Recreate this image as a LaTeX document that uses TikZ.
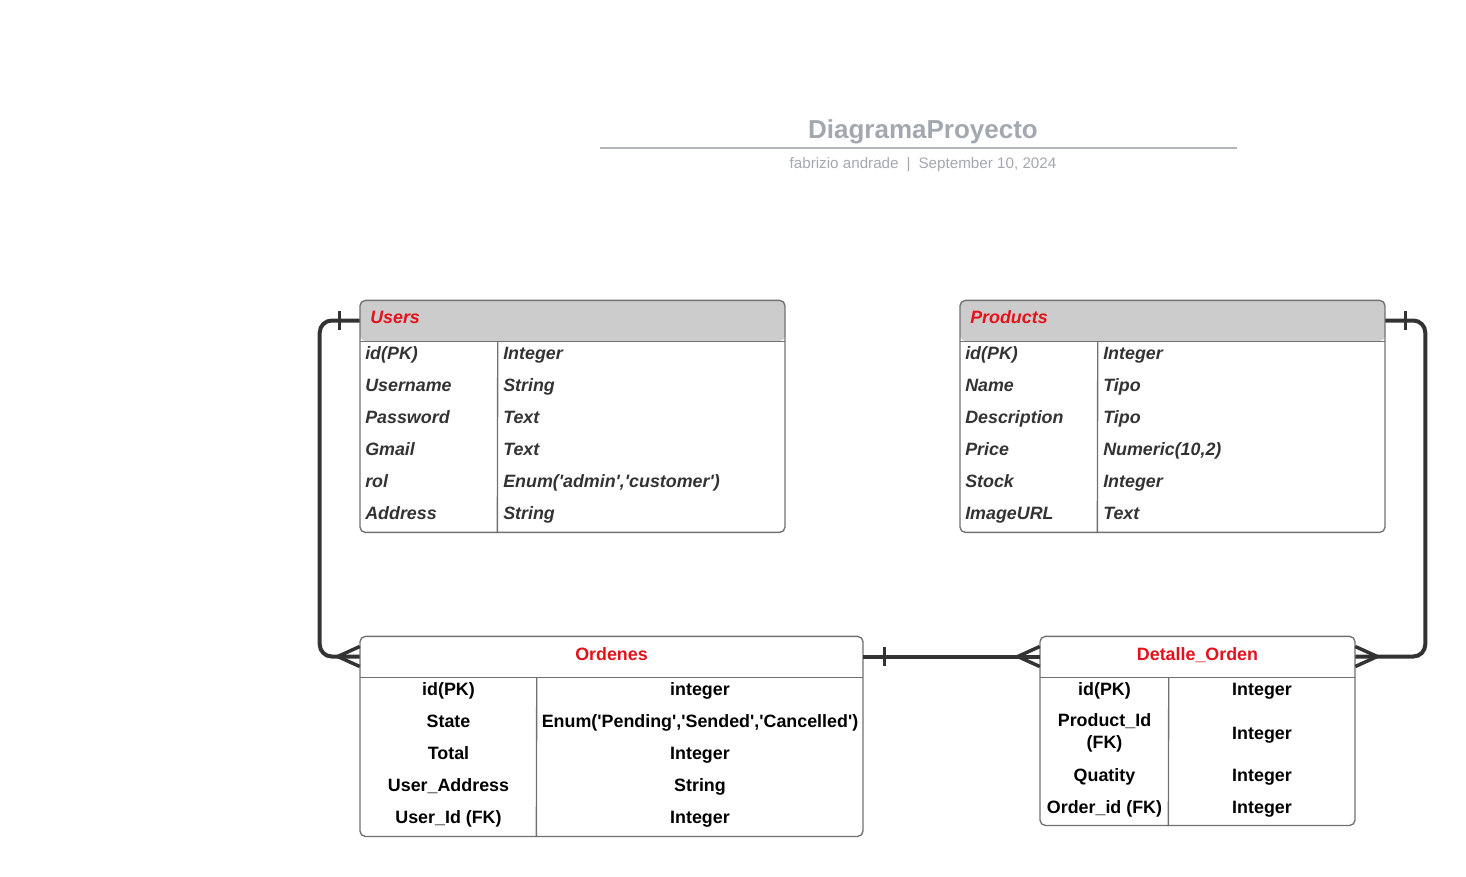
\documentclass[tikz,border=0pt]{standalone}
\usepackage{fontspec}
\setmainfont{Liberation Sans}[Ligatures=TeXOff]
\usepackage{xcolor}
\usepackage{tikz}
\usetikzlibrary{
  positioning,
  calc
}
\definecolor{erRed}{HTML}{E3121B}
\definecolor{erHead}{HTML}{CCCCCC}
\definecolor{erBorder}{HTML}{707070}
\definecolor{erLine}{HTML}{333333}
\definecolor{erField}{HTML}{333333}
\definecolor{erTitle}{HTML}{A3A8B0}
\tikzset{
  tbl/.style={
    draw=erBorder, line width=1pt, rounded corners=4pt, inner sep=0pt
  },
  tblhead/.style={fill=erHead, rounded corners=4pt, inner sep=0pt},
  tblplain/.style={fill=white, rounded corners=4pt, inner sep=0pt},
  tblline/.style={draw=erBorder, line width=1pt},
  headtxt/.style={font=\fontsize{13.4}{16}\selectfont\bfseries, text=erRed, inner sep=0pt},
  fieldit/.style={
    font=\fontsize{13.4}{16}\selectfont\bfseries\itshape, text=erField,
    anchor=base west, inner sep=0pt
  },
  fieldc/.style={
    font=\fontsize{13.4}{16.5}\selectfont\bfseries, text=black,
    anchor=base, inner sep=0pt, align=center
  },
  relline/.style={line width=3pt, draw=erLine, rounded corners=9pt},
  relbar/.style={line width=2.4pt, draw=erLine},
  crowfoot/.style={line width=2.6pt, draw=erLine},
  titletxt/.style={font=\fontsize{19.5}{22}\selectfont\bfseries, text=erTitle, anchor=base, inner sep=0pt},
  subtxt/.style={font=\fontsize{11.4}{13}\selectfont, text=erTitle, anchor=base, inner sep=0pt},
  titlerule/.style={line width=1.6pt, draw=erTitle!85}
}
\begin{document}
\begin{tikzpicture}[x=0.75pt, y=-0.75pt]
  \useasboundingbox (0,0) rectangle (1466,876);
  % title block
  \node[titletxt] (title) at (923,138.3) {DiagramaProyecto};
  \draw[titlerule] (600,148) -- (1237,148);
  \node[subtxt] (subtitle) at (923,168.5) {fabrizio andrade\hspace{6pt}|\hspace{6pt}September 10, 2024};

  % Users
  \node[tblhead, minimum width=318.75pt, minimum height=30.75pt] (usersHead) at (572.5,320.5) {};
  \node[tbl, anchor=north, minimum width=318.75pt, minimum height=174pt] (users) at (usersHead.north) {};
  \draw[tblline] (usersHead.south west) -- (usersHead.south east);
  \draw[tblline] ($(usersHead.south west)+(138,0)$) -- ($(users.south west)+(138,0)$);
  \node[headtxt, anchor=base west] (usersTitle) at (370,323.8) {\itshape Users};
  \foreach \fld/\typ [count=\i from 0] in {id(PK)/Integer, Username/String, Password/Text,
      Gmail/Text, rol/{Enum('admin','customer')}, Address/String} {
    \node[fieldit] (uf\i) at (365,{359.5+32*\i}) {\fld};
    \node[fieldit] (ut\i) at (503,{359.5+32*\i}) {\typ};
  }

  % Products
  \node[tblhead, minimum width=318.75pt, minimum height=30.75pt] (prodHead) at (1172.5,320.5) {};
  \node[tbl, anchor=north, minimum width=318.75pt, minimum height=174pt] (prod) at (prodHead.north) {};
  \draw[tblline] (prodHead.south west) -- (prodHead.south east);
  \draw[tblline] ($(prodHead.south west)+(138,0)$) -- ($(prod.south west)+(138,0)$);
  \node[headtxt, anchor=base west] (prodTitle) at (970,323.8) {\itshape Products};
  \foreach \fld/\typ [count=\i from 0] in {id(PK)/Integer, Name/Tipo, Description/Tipo,
      Price/{Numeric(10,2)}, Stock/Integer, ImageURL/Text} {
    \node[fieldit] (pf\i) at (965,{359.5+32*\i}) {\fld};
    \node[fieldit] (pt\i) at (1103,{359.5+32*\i}) {\typ};
  }

  % Ordenes
  \node[tblplain, minimum width=377.25pt, minimum height=30.75pt] (ordHead) at (611.5,656.5) {};
  \node[tbl, anchor=north, minimum width=377.25pt, minimum height=150pt] (ord) at (ordHead.north) {};
  \draw[tblline] (ordHead.south west) -- (ordHead.south east);
  \draw[tblline] ($(ordHead.south west)+(177,0)$) -- ($(ord.south west)+(177,0)$);
  \node[headtxt, anchor=base] (ordTitle) at (611.5,660) {Ordenes};
  \foreach \fld/\typ [count=\i from 0] in {id(PK)/integer, State/{Enum('Pending','Sended','Cancelled')},
      Total/Integer, User\_Address/String, User\_Id (FK)/Integer} {
    \node[fieldc] (of\i) at (448.5,{695.5+32*\i}) {\fld};
    \node[fieldc] (ot\i) at (700,{695.5+32*\i}) {\typ};
  }

  % Detalle_Orden
  \node[tblplain, minimum width=236.25pt, minimum height=30.75pt] (detHead) at (1197.5,656.5) {};
  \node[tbl, anchor=north, minimum width=236.25pt, minimum height=141.75pt] (det) at (detHead.north) {};
  \draw[tblline] (detHead.south west) -- (detHead.south east);
  \draw[tblline] ($(detHead.south west)+(129,0)$) -- ($(det.south west)+(129,0)$);
  \node[headtxt, anchor=base] (detTitle) at (1197.5,660) {Detalle\_Orden};
  \node[fieldc] (df0) at (1104.5,695.5) {id(PK)};
  \node[fieldc, anchor=center] (df1) at (1104.5,732.5) {Product\_Id\\(FK)};
  \node[fieldc] (df2) at (1104.5,781) {Quatity};
  \node[fieldc] (df3) at (1104.5,813) {Order\_id (FK)};
  \node[fieldc] (dt0) at (1262,695.5) {Integer};
  \node[fieldc] (dt1) at (1262,739) {Integer};
  \node[fieldc] (dt2) at (1262,781) {Integer};
  \node[fieldc] (dt3) at (1262,813) {Integer};

  % relations
  \draw[relline] (usersHead.west) -- ++(-40,0) |- (ordHead.west);
  \draw[relbar] ($(usersHead.west)+(-20,-9.5)$) -- ($(usersHead.west)+(-20,9.5)$);
  \draw[crowfoot] ($(ordHead.west)+(0,-10)$) -- ($(ordHead.west)+(-22,0)$) -- ($(ordHead.west)+(0,10)$);

  \draw[relline] (prodHead.east) -- ++(40,0) |- (detHead.east);
  \draw[relbar] ($(prodHead.east)+(20,-9.5)$) -- ($(prodHead.east)+(20,9.5)$);
  \draw[crowfoot] ($(detHead.east)+(0,-10)$) -- ($(detHead.east)+(22,0)$) -- ($(detHead.east)+(0,10)$);

  \draw[relline] (ordHead.east) -- (detHead.west);
  \draw[relbar] ($(ordHead.east)+(21,-9.5)$) -- ($(ordHead.east)+(21,9.5)$);
  \draw[crowfoot] ($(detHead.west)+(0,-10)$) -- ($(detHead.west)+(-22,0)$) -- ($(detHead.west)+(0,10)$);
\end{tikzpicture}
\end{document}
